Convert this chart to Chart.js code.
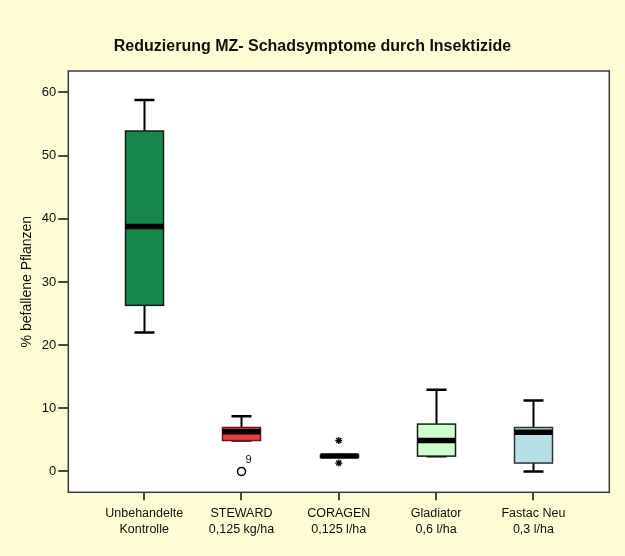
<!DOCTYPE html>
<html><head><meta charset="utf-8">
<script src="https://cdn.jsdelivr.net/npm/chart.js@4.4.0/dist/chart.umd.min.js"></script>
<style>html,body{margin:0;padding:0;background:#fdfcd5;overflow:hidden}</style>
</head><body>
<canvas id="c" width="625" height="556" style="display:block;width:625px;height:556px"></canvas>
<script>
// ---- data ----
const categories = [["Unbehandelte","Kontrolle"],["STEWARD","0,125 kg/ha"],["CORAGEN","0,125 l/ha"],["Gladiator","0,6 l/ha"],["Fastac Neu","0,3 l/ha"]];
const whiskerLow  = [22.0, 4.9, 2.43, 2.4, 0.0];
const q1          = [26.3, 4.9, 2.25, 2.43, 1.33];
const median      = [38.8, 6.3, 2.43, 4.9, 6.2];
const q3          = [53.9, 6.96, 2.6, 7.5, 6.96];
const whiskerHigh = [58.8, 8.75, 2.6, 12.93, 11.23];
const circleCategory = [2];
const circleValue    = [0];
const circleLabel    = ["9"];
const starCategory   = [3, 3];
const starValue      = [4.9, 1.33];
const yTicks = [0, 10, 20, 30, 40, 50, 60];
const xTicks = [1, 2, 3, 4, 5];
const boxColors = ['#16874a', '#ee3b3b', '#ffffff', '#ccffcc', '#b5e1e6'];
const boxBorders = ['#1a1a1a', '#6a1a1a', '#111111', '#1a1a1a', '#333333'];

const BG = '#fdfcd5';
const FONT = "'Liberation Sans', Arial, sans-serif";
Chart.defaults.font.family = FONT;
Chart.defaults.color = '#111';

const boxPlugin = {
  id: 'boxes',
  beforeDraw(chart) {
    const {ctx, chartArea: a} = chart;
    ctx.save();
    ctx.fillStyle = BG; ctx.fillRect(0, 0, chart.width, chart.height);
    ctx.fillStyle = '#ffffff'; ctx.fillRect(a.left, a.top, a.right - a.left, a.bottom - a.top);
    ctx.restore();
  },
  beforeDatasetsDraw(chart) {
    const {ctx, scales: {x, y}} = chart;
    const half = 19, cap = 10;
    ctx.save();
    categories.forEach((c, i) => {
      const cx = Math.round(x.getPixelForValue(xTicks[i])) + 0.5;
      const yl = y.getPixelForValue(whiskerLow[i]);
      const y1 = y.getPixelForValue(q1[i]);
      const ym = y.getPixelForValue(median[i]);
      const y3 = y.getPixelForValue(q3[i]);
      const yh = y.getPixelForValue(whiskerHigh[i]);
      ctx.strokeStyle = '#000'; ctx.lineWidth = 2;
      ctx.beginPath();
      ctx.moveTo(cx, yl); ctx.lineTo(cx, y1);
      ctx.moveTo(cx, y3); ctx.lineTo(cx, yh);
      ctx.stroke();
      ctx.lineWidth = 2.5;
      ctx.beginPath();
      ctx.moveTo(cx - cap, yl); ctx.lineTo(cx + cap, yl);
      ctx.moveTo(cx - cap, yh); ctx.lineTo(cx + cap, yh);
      ctx.stroke();
      ctx.fillStyle = boxColors[i];
      ctx.fillRect(cx - half, y3, 2 * half, y1 - y3);
      ctx.strokeStyle = boxBorders[i]; ctx.lineWidth = 1.5;
      ctx.strokeRect(cx - half, y3, 2 * half, y1 - y3);
      ctx.strokeStyle = '#000'; ctx.lineWidth = 5.5;
      ctx.beginPath();
      ctx.moveTo(cx - half, ym); ctx.lineTo(cx + half, ym);
      ctx.stroke();
    });
    ctx.restore();
  },
  afterDatasetsDraw(chart) {
    const {ctx, scales: {x, y}} = chart;
    ctx.save();
    ctx.fillStyle = '#111';
    ctx.font = "11px " + FONT;
    ctx.textAlign = 'left'; ctx.textBaseline = 'middle';
    circleLabel.forEach((t, i) => {
      ctx.fillText(t, x.getPixelForValue(circleCategory[i]) + 4, y.getPixelForValue(circleValue[i]) - 11);
    });
    ctx.restore();
  },
  afterDraw(chart) {
    const {ctx, chartArea: a} = chart;
    ctx.save();
    ctx.strokeStyle = '#3a3a3a'; ctx.lineWidth = 1.5;
    ctx.strokeRect(a.left, a.top, a.right - a.left, a.bottom - a.top);
    ctx.restore();
  }
};

new Chart(document.getElementById('c'), {
  type: 'scatter',
  data: {
    datasets: [
      {
        data: circleCategory.map((c, i) => ({x: c, y: circleValue[i]})),
        pointStyle: 'circle', pointRadius: 4, borderColor: '#000', backgroundColor: '#fff', borderWidth: 1.5
      },
      {
        data: starCategory.map((c, i) => ({x: c, y: starValue[i]})),
        pointStyle: 'star', pointRadius: 3.5, borderColor: '#000', backgroundColor: '#000', borderWidth: 1.3
      }
    ]
  },
  options: {
    responsive: false,
    animation: false,
    devicePixelRatio: 1,
    layout: {padding: {left: 15.7, right: 15.7, top: 0, bottom: 0}},
    plugins: {
      legend: {display: false},
      tooltip: {enabled: false},
      title: {
        display: true,
        text: 'Reduzierung MZ- Schadsymptome durch Insektizide',
        font: {size: 16, weight: 'bold', family: FONT, lineHeight: 1.2},
        color: '#111',
        padding: {top: 36.5, bottom: 15.3}
      }
    },
    scales: {
      x: {
        type: 'linear',
        min: 0.22, max: 5.78,
        afterBuildTicks(s) { s.ticks = xTicks.map(v => ({value: v})); },
        afterFit(s) { s.height = 63.7; },
        ticks: {
          callback: (v) => categories[v - 1],
          font: {size: 12.5, lineHeight: 1.3},
          color: '#111',
          padding: 5,
          maxRotation: 0, autoSkip: false
        },
        grid: {drawOnChartArea: false, drawTicks: true, tickLength: 8, color: '#4a4a38', lineWidth: 2},
        border: {display: false}
      },
      y: {
        type: 'linear',
        min: -3.3, max: 63.4,
        afterBuildTicks(s) { s.ticks = yTicks.map(v => ({value: v})); },
        afterFit(s) { s.width = 52.6; },
        ticks: {font: {size: 13}, color: '#111', padding: 2},
        grid: {drawOnChartArea: false, drawTicks: true, tickLength: 10, color: '#4a4a38', lineWidth: 2},
        border: {display: false},
        title: {
          display: true, text: '% befallene Pflanzen',
          font: {size: 14, lineHeight: 1.2}, color: '#111',
          padding: {top: 3.3, bottom: 0}
        }
      }
    }
  },
  plugins: [boxPlugin]
});
</script>
</body></html>
